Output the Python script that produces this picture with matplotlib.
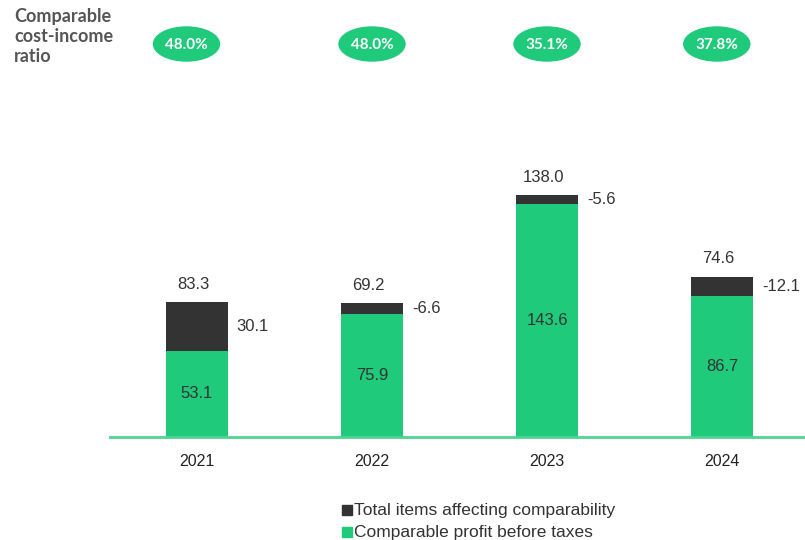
import matplotlib.pyplot as plt
import numpy as np
from matplotlib.patches import Ellipse, Rectangle
from matplotlib.transforms import blended_transform_factory

years = ['2021', '2022', '2023', '2024']
profit = [53.1, 75.9, 143.6, 86.7]
items = [30.1, -6.6, -5.6, -12.1]
totals = [83.3, 69.2, 138.0, 74.6]
cost_income = ['48.0%', '48.0%', '35.1%', '37.8%']
ratio_x = [-0.06, 1.0, 2.0, 2.97]

green = '#1fca7b'
dark = '#333333'
text_col = '#333333'

plt.rcParams['font.family'] = ['Liberation Sans', 'DejaVu Sans']

fig = plt.figure(figsize=(8.05, 5.4), dpi=100)
ax = fig.add_axes([110 / 805, 103 / 540, 695 / 805, 287 / 540])

x = np.arange(len(years))
w = 0.355
ax.bar(x, profit, width=w, color=green, zorder=2)
# the adjustment items are stacked as magnitudes on top of the profit bar
ax.bar(x, np.abs(items), width=w, bottom=profit, color=dark, zorder=2)

for i in range(len(years)):
    top = profit[i] + abs(items[i])
    ax.text(x[i], profit[i] / 2, f'{profit[i]:.1f}', ha='center', va='center',
            fontsize=12, color=text_col)
    ax.text(x[i] + w / 2 + 0.05, profit[i] + abs(items[i]) / 2,
            f'{items[i]:.1f}', ha='left', va='center', fontsize=12, color=text_col)
    ax.text(x[i] - 0.02, top + 11, f'{totals[i]:.1f}', ha='center', va='center',
            fontsize=12, color=text_col)

ax.set_xlim(-0.497, 3.474)
ax.set_ylim(0, 177)
ax.set_xticks(x)
ax.set_xticklabels(years, fontsize=11.5, color='#222222')
ax.tick_params(axis='x', length=0, pad=12)
ax.set_yticks([])
for s in ['top', 'right', 'left']:
    ax.spines[s].set_visible(False)
ax.spines['bottom'].set_color('#4fd493')
ax.spines['bottom'].set_linewidth(2)
ax.spines['bottom'].set_zorder(3)

# cost-income ratio row
fig.text(14 / 805, 1 - 8 / 540, 'Comparable\ncost-income\nratio', ha='left', va='top',
         fontsize=13, fontweight='bold', color='#555555', family=['Lato', 'DejaVu Sans'],
         linespacing=1.2)
tr = blended_transform_factory(ax.transData, fig.transFigure)
for xi, lab in zip(ratio_x, cost_income):
    ax.add_patch(Ellipse((xi, 1 - 44 / 540), 66 / 175, 34 / 540, transform=tr,
                         color=green, clip_on=False))
    ax.text(xi, 1 - 45 / 540, lab, transform=tr, ha='center', va='center',
            fontsize=11, fontweight='bold', color='white', family=['Lato', 'DejaVu Sans'])

# legend
leg_items = [('Total items affecting comparability', dark),
             ('Comparable profit before taxes', green)]
for k, (lab, col) in enumerate(leg_items):
    yy = 1 - (510 + 22 * k) / 540
    fig.patches.append(Rectangle((342 / 805, yy - 5 / 540), 10 / 805, 10 / 540,
                                 transform=fig.transFigure, color=col))
    fig.text(354 / 805, yy, lab, ha='left', va='center', fontsize=12.5, color=text_col)

fig.savefig('out.png', dpi=100)
